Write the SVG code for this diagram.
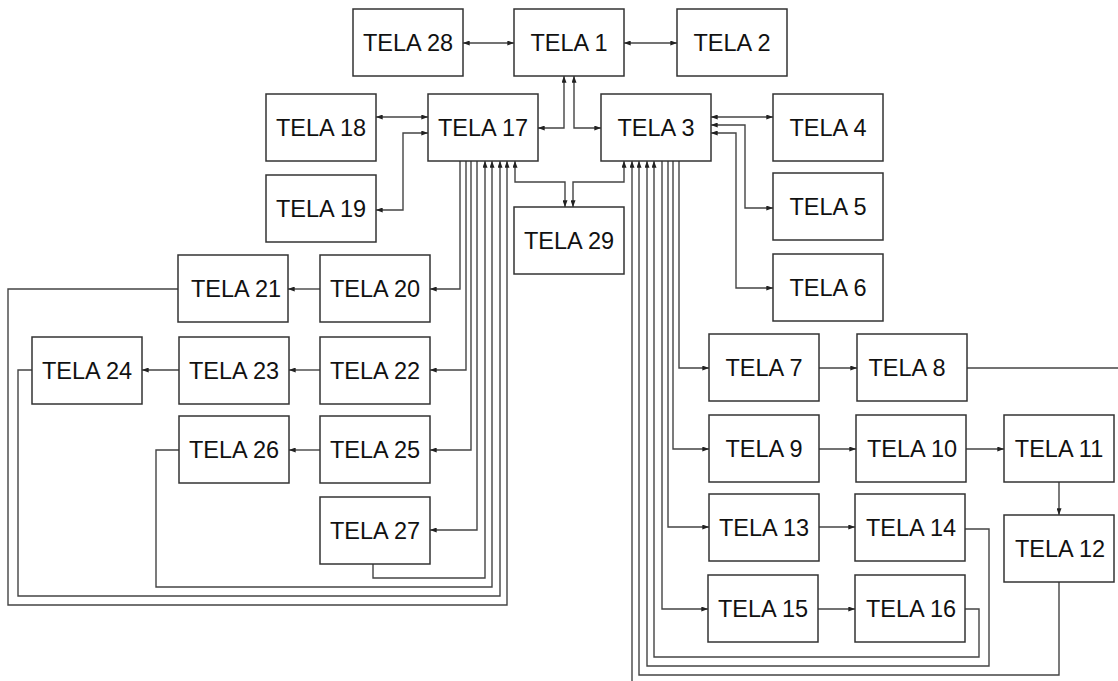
<svg xmlns="http://www.w3.org/2000/svg" width="1118" height="681" viewBox="0 0 1118 681">
<style>
.box rect{fill:#fff;stroke:#333;stroke-width:1.5}
.box text{font-family:"Liberation Sans",Arial,sans-serif;font-size:23.5px;fill:#111;text-anchor:middle}
#connectors path{fill:none;stroke:#444;stroke-width:1.4}
.b{marker-start:url(#ah);marker-end:url(#ah)}
.e{marker-end:url(#ah)}
</style>
<defs>
<marker id="ah" viewBox="0 0 8 6" refX="8" refY="3" markerWidth="7" markerHeight="5" markerUnits="userSpaceOnUse" orient="auto-start-reverse">
<path d="M0,0 L8,3 L0,6 z" fill="#222"/>
</marker>
</defs>
<rect width="1118" height="681" fill="#fff"/>
<g id="connectors">
<path class="b" d="M463,43 H514"/>
<path class="b" d="M624,43 H677"/>
<path class="b" d="M564,76 V128 H538"/>
<path class="b" d="M574,76 V128 H601"/>
<path class="b" d="M376,117 H428"/>
<path class="b" d="M376,210 H403 V133 H428"/>
<path class="b" d="M515,161 V182 H565 V207"/>
<path class="b" d="M624,161 V182 H573 V207"/>
<path class="b" d="M711,117 H773"/>
<path class="b" d="M711,125 H745 V208 H773"/>
<path class="b" d="M711,133 H736 V288 H773"/>
<path class="e" d="M460,161 V289 H430"/>
<path class="e" d="M466,161 V370 H430"/>
<path class="e" d="M471,161 V450 H430"/>
<path class="e" d="M477,161 V530 H430"/>
<path class="e" d="M320,289 H288"/>
<path class="e" d="M320,370 H289"/>
<path class="e" d="M179,370 H142"/>
<path class="e" d="M320,450 H289"/>
<path class="e" d="M373,564 V578 H485 V161"/>
<path class="e" d="M179,450 H156 V587 H492 V161"/>
<path class="e" d="M32,370 H18 V596 H500 V161"/>
<path class="e" d="M178,289 H8 V605 H507 V161"/>
<path class="e" d="M679,161 V368 H709"/>
<path class="e" d="M673,161 V449 H709"/>
<path class="e" d="M668,161 V527 H709"/>
<path class="e" d="M662,161 V609 H708"/>
<path class="e" d="M819,368 H857"/>
<path class="e" d="M819,449 H856"/>
<path class="e" d="M966,449 H1004"/>
<path class="e" d="M1059,482 V515"/>
<path class="e" d="M819,527 H855"/>
<path class="e" d="M818,609 H855"/>
<path d="M967,368 H1118"/>
<path class="e" d="M965,609 H979 V657 H654 V161"/>
<path class="e" d="M965,529 H989 V666 H647 V161"/>
<path class="e" d="M1059,582 V675 H639 V161"/>
<path class="e" d="M632,681 V161"/>
</g>
<g id="tela28" class="box"><rect x="353" y="9" width="110" height="67"/><text x="408" y="50.5">TELA 28</text></g>
<g id="tela1" class="box"><rect x="514" y="9" width="110" height="67"/><text x="569" y="50.5">TELA 1</text></g>
<g id="tela2" class="box"><rect x="677" y="9" width="110" height="67"/><text x="732" y="50.5">TELA 2</text></g>
<g id="tela18" class="box"><rect x="266" y="94" width="110" height="67"/><text x="321" y="135.5">TELA 18</text></g>
<g id="tela17" class="box"><rect x="428" y="94" width="110" height="67"/><text x="483" y="135.5">TELA 17</text></g>
<g id="tela3" class="box"><rect x="601" y="94" width="110" height="67"/><text x="656" y="135.5">TELA 3</text></g>
<g id="tela4" class="box"><rect x="773" y="94" width="110" height="67"/><text x="828" y="135.5">TELA 4</text></g>
<g id="tela19" class="box"><rect x="266" y="175" width="110" height="67"/><text x="321" y="216.5">TELA 19</text></g>
<g id="tela29" class="box"><rect x="514" y="207" width="110" height="67"/><text x="569" y="248.5">TELA 29</text></g>
<g id="tela5" class="box"><rect x="773" y="173" width="110" height="67"/><text x="828" y="214.5">TELA 5</text></g>
<g id="tela6" class="box"><rect x="773" y="254" width="110" height="67"/><text x="828" y="295.5">TELA 6</text></g>
<g id="tela21" class="box"><rect x="178" y="255" width="110" height="67"/><text x="236" y="296.5">TELA 21</text></g>
<g id="tela20" class="box"><rect x="320" y="255" width="110" height="67"/><text x="375" y="296.5">TELA 20</text></g>
<g id="tela24" class="box"><rect x="32" y="337" width="110" height="67"/><text x="87" y="378.5">TELA 24</text></g>
<g id="tela23" class="box"><rect x="179" y="337" width="110" height="67"/><text x="234" y="378.5">TELA 23</text></g>
<g id="tela22" class="box"><rect x="320" y="337" width="110" height="67"/><text x="375" y="378.5">TELA 22</text></g>
<g id="tela26" class="box"><rect x="179" y="416" width="110" height="67"/><text x="234" y="457.5">TELA 26</text></g>
<g id="tela25" class="box"><rect x="320" y="416" width="110" height="67"/><text x="375" y="457.5">TELA 25</text></g>
<g id="tela27" class="box"><rect x="320" y="497" width="110" height="67"/><text x="375" y="538.5">TELA 27</text></g>
<g id="tela7" class="box"><rect x="709" y="334" width="110" height="67"/><text x="764" y="375.5">TELA 7</text></g>
<g id="tela8" class="box"><rect x="857" y="334" width="110" height="67"/><text x="907" y="375.5">TELA 8</text></g>
<g id="tela9" class="box"><rect x="709" y="415" width="110" height="67"/><text x="764" y="456.5">TELA 9</text></g>
<g id="tela10" class="box"><rect x="856" y="415" width="110" height="67"/><text x="912" y="456.5">TELA 10</text></g>
<g id="tela11" class="box"><rect x="1004" y="415" width="110" height="67"/><text x="1059" y="456.5">TELA 11</text></g>
<g id="tela13" class="box"><rect x="709" y="494" width="110" height="67"/><text x="764" y="535.5">TELA 13</text></g>
<g id="tela14" class="box"><rect x="855" y="494" width="110" height="67"/><text x="911" y="535.5">TELA 14</text></g>
<g id="tela12" class="box"><rect x="1004" y="515" width="110" height="67"/><text x="1060" y="556.5">TELA 12</text></g>
<g id="tela15" class="box"><rect x="708" y="575" width="110" height="67"/><text x="763" y="616.5">TELA 15</text></g>
<g id="tela16" class="box"><rect x="855" y="575" width="110" height="67"/><text x="911" y="616.5">TELA 16</text></g>
</svg>
